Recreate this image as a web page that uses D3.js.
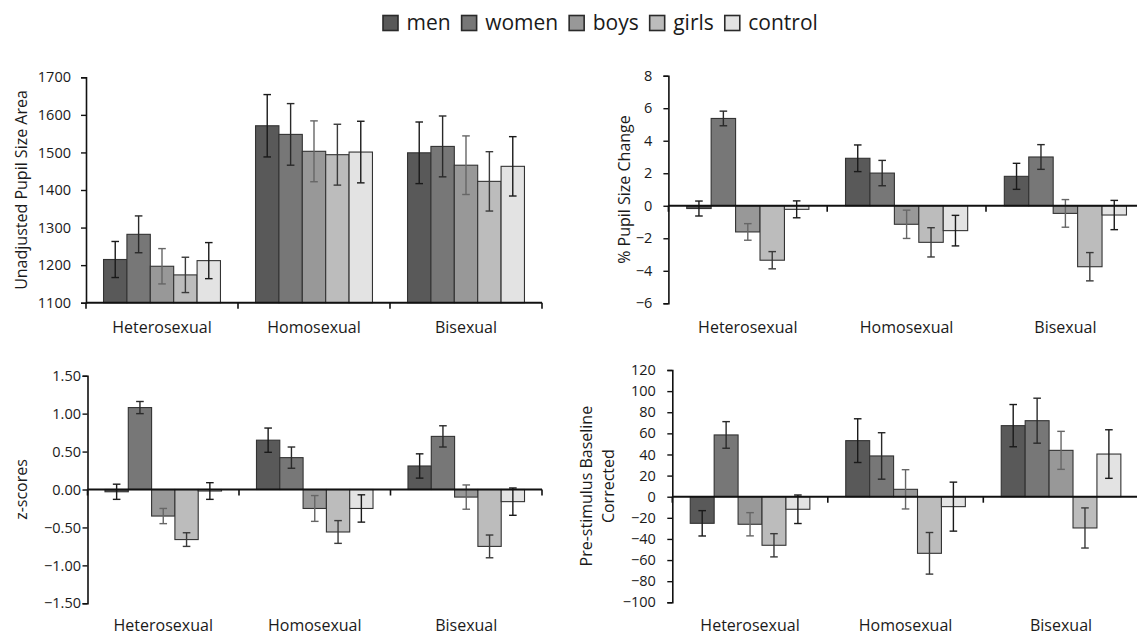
<!DOCTYPE html>
<html>
<head>
<meta charset="utf-8">
<script src="https://cdn.jsdelivr.net/npm/d3@7"></script>
<style>
  body { margin: 0; background: #fff; }
  svg text { font-family: "Open Sans", sans-serif; fill: #1a1a1a; }
</style>
</head>
<body>
<div id="chart"></div>
<script>
/* Data */
const GROUPS = ["Heterosexual", "Homosexual", "Bisexual"]
const SERIES = ["men", "women", "boys", "girls", "control"]
const COLORS = ["#595959", "#777777", "#989898", "#bcbcbc", "#e3e3e3"]
const ERR_COLORS = ["#1a1a1a", "#2a2a2a", "#666666", "#3a3a3a", "#1a1a1a"]

const areaValues = [[1215, 1282, 1197, 1174, 1212], [1571, 1548, 1503, 1494, 1501], [1499, 1516, 1466, 1423, 1463]]
const areaErrors = [[48, 49, 47, 47, 48], [83, 82, 81, 81, 82], [82, 81, 78, 79, 79]]
const areaTicks = [1100, 1200, 1300, 1400, 1500, 1600, 1700]

const changeValues = [[-0.17, 5.37, -1.61, -3.35, -0.22], [2.92, 2.01, -1.14, -2.25, -1.53], [1.81, 3.0, -0.47, -3.75, -0.57]]
const changeErrors = [[0.46, 0.45, 0.51, 0.53, 0.52], [0.82, 0.78, 0.87, 0.9, 0.94], [0.8, 0.76, 0.85, 0.87, 0.9]]
const changeTicks = [-6, -4, -2, 0, 2, 4, 6, 8]

const zValues = [[-0.03, 1.08, -0.35, -0.66, -0.02], [0.65, 0.42, -0.25, -0.56, -0.25], [0.31, 0.70, -0.10, -0.75, -0.16]]
const zErrors = [[0.1, 0.08, 0.1, 0.09, 0.11], [0.16, 0.14, 0.17, 0.15, 0.18], [0.16, 0.14, 0.16, 0.15, 0.18]]
const zTicks = [-1.5, -1.0, -0.5, 0, 0.5, 1.0, 1.5]

const baseValues = [[-25.2, 58.5, -26.1, -46, -11.9], [53.1, 38.6, 7.0, -53.6, -9.4], [67.3, 72, 43.9, -29.6, 40.4]]
const baseErrors = [[12, 12.6, 11, 11, 13.5], [20.7, 22, 18.6, 19.7, 23.2], [20, 21.3, 18, 19, 23]]
const baseTicks = [-100, -80, -60, -40, -20, 0, 20, 40, 60, 80, 100, 120]

/* Panels */
const PANELS = [
  {values: areaValues, errors: areaErrors, ticks: areaTicks, fmt: d3.format("d"),
   x0: 86, x1: 542, yTop: 77.3, yBot: 302.7, base: 1100, pad: 10, catY: 333,
   label: ["Unadjusted Pupil Size Area"], labelX: 21},
  {values: changeValues, errors: changeErrors, ticks: changeTicks, fmt: d3.format("d"),
   x0: 668.4, x1: 1144.8, yTop: 75.7, yBot: 303.3, base: 0, pad: 11, catY: 333,
   label: ["% Pupil Size Change"], labelX: 624},
  {values: zValues, errors: zErrors, ticks: zTicks, fmt: d3.format(".2f"),
   x0: 87.5, x1: 542, yTop: 375.7, yBot: 603.3, base: 0, pad: 1.5, catY: 630.5,
   label: ["z-scores"], labelX: 21.4},
  {values: baseValues, errors: baseErrors, ticks: baseTicks, fmt: d3.format("d"),
   x0: 672.3, x1: 1138.8, yTop: 370, yBot: 602.3, base: 0, pad: 11.5, catY: 630.5,
   label: ["Pre-stimulus Baseline", "Corrected"], labelX: 597}
]

const svg = d3.select("#chart").append("svg")
  .attr("width", 1137).attr("height", 635)

PANELS.forEach((p) => {
  const g = svg.append("g")
  const y = d3.scaleLinear()
    .domain([p.ticks[0], p.ticks[p.ticks.length - 1]])
    .range([p.yBot, p.yTop])
  const x0 = d3.scaleBand().domain(GROUPS).range([p.x0, p.x1]).padding(0)
  const x1 = d3.scaleBand().domain(SERIES).range([0, x0.bandwidth()])
    .paddingInner(0).paddingOuter(0.75)

  // bars
  GROUPS.forEach((grp, gi) => {
    const cell = g.append("g").attr("transform", "translate(" + x0(grp) + ",0)")
    cell.selectAll("rect")
      .data(SERIES)
      .enter()
      .append("rect")
      .attr("x", (d) => x1(d))
      .attr("width", x1.bandwidth())
      .attr("y", (d, i) => Math.min(y(p.values[gi][i]), y(p.base)))
      .attr("height", (d, i) => Math.abs(y(p.values[gi][i]) - y(p.base)))
      .attr("fill", (d, i) => COLORS[i])
      .attr("stroke", "#333")
      .attr("stroke-width", 1.1)
    // error bars
    const err = cell.selectAll("g.err")
      .data(SERIES)
      .enter()
      .append("g")
      .attr("class", "err")
      .attr("stroke", (d, i) => ERR_COLORS[i])
      .attr("stroke-width", 1.4)
    err.append("line")
      .attr("x1", (d) => x1(d) + x1.bandwidth() / 2)
      .attr("x2", (d) => x1(d) + x1.bandwidth() / 2)
      .attr("y1", (d, i) => y(p.values[gi][i] + p.errors[gi][i]))
      .attr("y2", (d, i) => y(p.values[gi][i] - p.errors[gi][i]))
    ;[1, -1].forEach((s) => {
      err.append("line")
        .attr("x1", (d) => x1(d) + x1.bandwidth() / 2 - 3.8)
        .attr("x2", (d) => x1(d) + x1.bandwidth() / 2 + 3.8)
        .attr("y1", (d, i) => y(p.values[gi][i] + s * p.errors[gi][i]))
        .attr("y2", (d, i) => y(p.values[gi][i] + s * p.errors[gi][i]))
    })
  })

  // y axis
  const yAxis = d3.axisLeft(y).tickValues(p.ticks).tickFormat(p.fmt)
    .tickSize(5).tickPadding(p.pad)
  const ya = g.append("g").attr("transform", "translate(" + p.x0 + ",0)").call(yAxis)
  ya.select(".domain").attr("stroke", "#111").attr("stroke-width", 1.6)
  ya.selectAll(".tick line").attr("stroke", "#111").attr("stroke-width", 1.4)
  ya.selectAll(".tick text").style("font-size", "14.5px").attr("fill", "#1a1a1a")

  // x axis (category boundaries)
  const bounds = GROUPS.map((d) => x0(d)).concat([x0.range()[1]])
  const y0 = y(p.base)
  g.append("line")
    .attr("x1", p.x0).attr("x2", p.x1)
    .attr("y1", y0).attr("y2", y0)
    .attr("stroke", "#111").attr("stroke-width", 2)
  g.selectAll("line.cat")
    .data(bounds)
    .enter()
    .append("line")
    .attr("class", "cat")
    .attr("x1", (d) => d).attr("x2", (d) => d)
    .attr("y1", y0).attr("y2", y0 + 6)
    .attr("stroke", "#111").attr("stroke-width", 1.6)
  g.selectAll("text.cat")
    .data(GROUPS)
    .enter()
    .append("text")
    .attr("class", "cat")
    .attr("x", (d) => x0(d) + x0.bandwidth() / 2)
    .attr("y", p.catY)
    .attr("text-anchor", "middle")
    .style("font-size", "16px")
    .text((d) => d)

  // y label
  const cy = (p.yTop + p.yBot) / 2
  const lab = g.append("text")
    .attr("transform", "translate(" + p.labelX + "," + cy + ") rotate(-90)")
    .attr("text-anchor", "middle")
    .style("font-size", "16px")
  p.label.forEach((t, i) => {
    lab.append("tspan")
      .attr("x", 0)
      .attr("dy", i === 0 ? (5.5 - (p.label.length - 1) * 11) : 22)
      .text(t)
  })
})

/* Legend */
const legend = svg.append("g")
let lx = 383
SERIES.forEach((s, i) => {
  legend.append("rect")
    .attr("x", lx).attr("y", 15.5)
    .attr("width", 15).attr("height", 15)
    .attr("fill", COLORS[i])
    .attr("stroke", "#2a2a2a").attr("stroke-width", 1.6)
  const t = legend.append("text")
    .attr("x", lx + 23.5).attr("y", 30)
    .style("font-size", "21px")
    .text(s)
  lx += 23.5 + t.node().getComputedTextLength() + 11
})
</script>
</body>
</html>
